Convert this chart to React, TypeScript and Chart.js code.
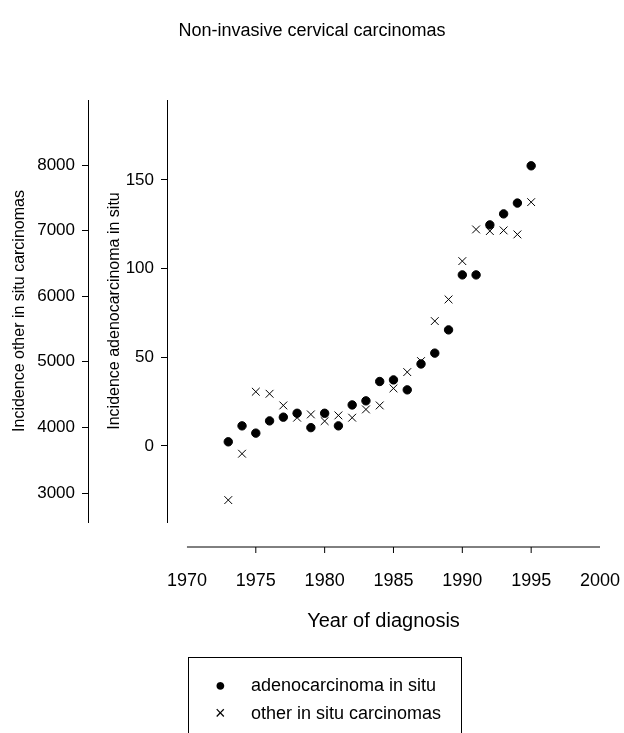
import { useEffect, useRef } from "react";
import Chart from "chart.js/auto";

const years = [
  1973, 1974, 1975, 1976, 1977, 1978, 1979, 1980, 1981, 1982, 1983, 1984,
  1985, 1986, 1987, 1988, 1989, 1990, 1991, 1992, 1993, 1994, 1995,
];
const adenoInSitu = [
  2.3, 11.3, 7.2, 14.1, 16.2, 18.4, 10.3, 18.4, 11.3, 23.1, 25.4, 36.3,
  37.2, 31.6, 46.2, 52.3, 65.4, 96.4, 96.4, 124.6, 130.8, 136.9, 157.9,
];
const otherInSitu = [
  2892, 3599, 4544, 4513, 4335, 4148, 4198, 4096, 4183, 4148, 4274, 4335,
  4595, 4843, 5011, 5621, 5951, 6535, 7018, 6993, 7003, 6942, 7434,
];
const xTicks = [1970, 1975, 1980, 1985, 1990, 1995, 2000];

const SANS = "'Liberation Sans', Arial, sans-serif";

// x axis is drawn by hand below the plot, detached from the y axes
const xAxisLine = {
  id: "xAxisLine",
  afterDraw(chart: any) {
    const { ctx, scales } = chart;
    const x = scales.x;
    const y = chart.chartArea.bottom + 25;
    ctx.save();
    ctx.strokeStyle = "#000";
    ctx.lineWidth = 1;
    ctx.beginPath();
    ctx.moveTo(x.getPixelForValue(1970), y);
    ctx.lineTo(x.getPixelForValue(2000), y);
    for (const t of xTicks.slice(1, -1)) {
      const px = x.getPixelForValue(t);
      ctx.moveTo(px, y);
      ctx.lineTo(px, y + 6);
    }
    ctx.stroke();
    ctx.restore();
  },
};

const plain = (v: any) => String(v);

export default function App() {
  const canvasRef = useRef<HTMLCanvasElement | null>(null);
  const chartRef = useRef<Chart | null>(null);

  useEffect(() => {
    const canvas = canvasRef.current;
    if (!canvas) return;
    if (chartRef.current) chartRef.current.destroy();

    chartRef.current = new Chart(canvas, {
      type: "scatter",
      data: {
        datasets: [
          {
            label: "adenocarcinoma in situ",
            data: years.map((y, i) => ({ x: y, y: adenoInSitu[i] })),
            yAxisID: "yA",
            pointStyle: "circle",
            pointRadius: 4.2,
            backgroundColor: "#000",
            borderColor: "#000",
          },
          {
            label: "other in situ carcinomas",
            data: years.map((y, i) => ({ x: y, y: otherInSitu[i] })),
            yAxisID: "yO",
            pointStyle: "crossRot",
            pointRadius: 5.5,
            borderWidth: 1,
            borderColor: "#000",
          },
        ],
      },
      options: {
        animation: false,
        responsive: false,
        layout: { padding: { top: 100, bottom: 99, right: 24, left: 0 } },
        plugins: {
          legend: { display: false },
          tooltip: { enabled: false },
        },
        scales: {
          x: {
            type: "linear",
            min: 1968.55,
            max: 2000,
            afterBuildTicks: (s: any) => {
              s.ticks = xTicks.map((v) => ({ value: v }));
            },
            afterFit: (s: any) => {
              s.height = 112;
              s.paddingLeft = 0;
              s.paddingRight = 0;
            },
            grid: { display: false },
            border: { display: false },
            ticks: {
              color: "#000",
              padding: 40,
              callback: plain,
              font: { family: SANS, size: 18 },
            },
            title: {
              display: true,
              text: "Year of diagnosis",
              color: "#000",
              font: { family: SANS, size: 20 },
              padding: { top: 0, bottom: 1 },
            },
          },
          yA: {
            position: "left",
            weight: 0,
            min: -42.9,
            max: 195,
            afterBuildTicks: (s: any) => {
              s.ticks = [0, 50, 100, 150].map((v) => ({ value: v }));
            },
            afterFit: (s: any) => {
              s.width = 79;
            },
            grid: { drawOnChartArea: false, tickLength: 6, color: "#000" },
            border: { color: "#000" },
            ticks: {
              color: "#000",
              padding: 7,
              callback: plain,
              font: { family: SANS, size: 17 },
            },
            title: {
              display: true,
              text: "Incidence adenocarcinoma in situ",
              color: "#000",
              font: { family: SANS, size: 16 },
              padding: { top: 17, bottom: 0 },
            },
          },
          yO: {
            position: "left",
            weight: 1,
            min: 2558,
            max: 8991,
            afterBuildTicks: (s: any) => {
              s.ticks = [3000, 4000, 5000, 6000, 7000, 8000].map((v) => ({ value: v }));
            },
            afterFit: (s: any) => {
              s.width = 88;
            },
            grid: { drawOnChartArea: false, tickLength: 6, color: "#000" },
            border: { color: "#000" },
            ticks: {
              color: "#000",
              padding: 7,
              callback: plain,
              font: { family: SANS, size: 17 },
            },
            title: {
              display: true,
              text: "Incidence other in situ carcinomas",
              color: "#000",
              font: { family: SANS, size: 16 },
              padding: { top: 10, bottom: 0 },
            },
          },
        },
      },
      plugins: [xAxisLine],
    });

    return () => {
      chartRef.current?.destroy();
      chartRef.current = null;
    };
  }, []);

  return (
    <div style={{ position: "fixed", left: 0, top: 0, width: 624, height: 733, background: "#fff", fontFamily: SANS }}>
      <canvas ref={canvasRef} width={624} height={733} style={{ width: 624, height: 733 }} />
      <div
        style={{
          position: "absolute",
          left: 0,
          top: 19,
          width: 624,
          textAlign: "center",
          fontSize: 18,
          lineHeight: "22px",
          color: "#000",
        }}
      >
        Non-invasive cervical carcinomas
      </div>
      <div
        style={{
          position: "absolute",
          left: 188,
          top: 657,
          width: 272,
          height: 90,
          border: "1px solid #000",
          fontSize: 18,
          color: "#000",
        }}
      >
        <div style={{ position: "absolute", left: 26, top: 13, lineHeight: "28px" }}>
          <div><span style={{ display: "inline-block", width: 36 }}>●</span>adenocarcinoma in situ</div>
          <div><span style={{ display: "inline-block", width: 36, fontSize: 18 }}>×</span>other in situ carcinomas</div>
        </div>
      </div>
    </div>
  );
}
